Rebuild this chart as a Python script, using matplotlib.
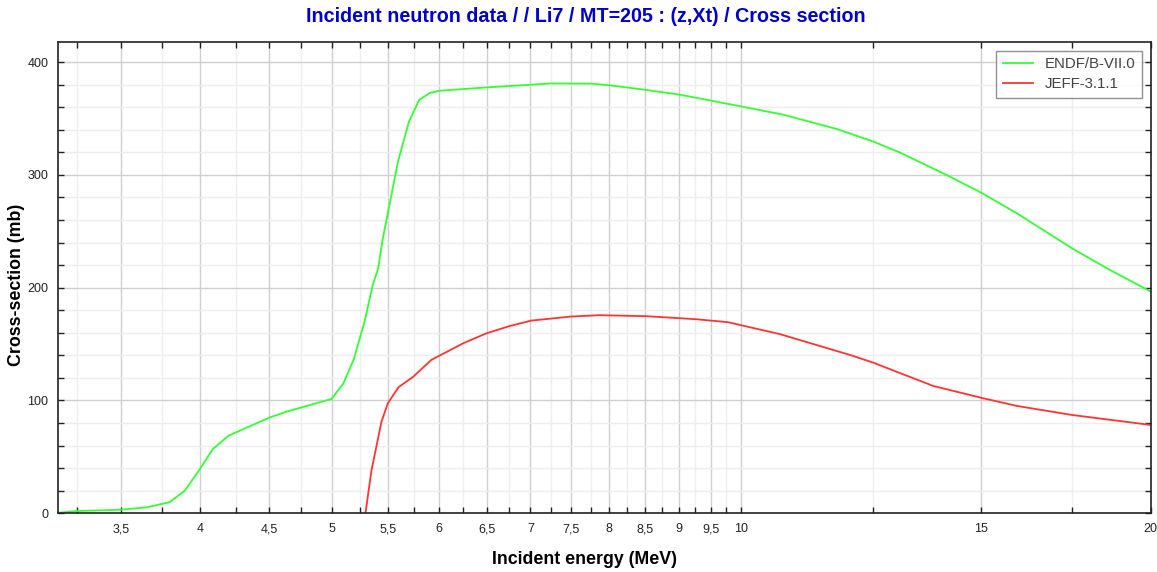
import numpy as np
import matplotlib
matplotlib.use("Agg")
import matplotlib.pyplot as plt
from matplotlib.ticker import FixedLocator, FuncFormatter

# ENDF/B-VII.0 (green)
endf_e = [3.147, 3.25, 3.5, 3.657, 3.80, 3.90, 4.0, 4.09, 4.20, 4.5, 4.63, 5.0, 5.10,
          5.19, 5.29, 5.36, 5.41, 5.45, 5.595, 5.70, 5.80, 5.905, 6.0, 6.5, 7.01, 7.25,
          7.76, 8.01, 8.5, 9.02, 9.51, 10.0, 10.74, 11.76, 12.5, 13.08, 14.15, 15.0,
          15.94, 17.5, 18.56, 20.0]
endf_xs = [0.5, 2, 3.2, 5.3, 9.8, 20, 39, 57, 68.8, 84.8, 90, 101.4, 115,
           136, 171, 202, 217, 242, 311.8, 347.3, 366.6, 372.5, 374.5, 377.5, 379.9, 381,
           380.8, 379.3, 375.4, 371, 365.7, 360.6, 353.3, 340.6, 329.6, 319.8, 300, 284.4,
           266, 235, 217.3, 196.5]

# JEFF-3.1.1 (red)
jeff_e = [5.295, 5.35, 5.40, 5.44, 5.50, 5.60, 5.74, 5.92, 6.25, 6.5, 6.76, 7.01, 7.50,
          7.87, 8.52, 9.02, 9.27, 9.78, 10.1, 10.68, 12.02, 12.5, 13.84, 15.0, 15.94,
          17.5, 20.0]
jeff_xs = [0, 38.4, 62, 81, 97.6, 111.8, 121, 136, 150.8, 159.6, 166, 170.8, 174.4,
           175.6, 174.7, 172.9, 172, 169.4, 165.5, 158.8, 140.4, 133.6, 112.9, 102.5, 95.2,
           87.2, 78.3]

x_major = [3.5, 4, 4.5, 5, 5.5, 6, 6.5, 7, 7.5, 8, 8.5, 9, 9.5, 10, 15, 20]
x_minor = list(np.arange(3.25, 10, 0.5)) + [12.5, 17.5]

plt.rcParams['font.family'] = ['Liberation Sans', 'DejaVu Sans']

fig = plt.figure(figsize=(11.57, 5.72), dpi=100)
ax = fig.add_axes([0.0501, 0.1026, 0.9445, 0.8245])

ax.plot(endf_e, endf_xs, color='#33ff33', lw=1.3, label='ENDF/B-VII.0')
ax.plot(jeff_e, jeff_xs, color='#ff3333', lw=1.3, label='JEFF-3.1.1')

ax.set_xscale('log')
ax.set_xlim(3.147, 20)
ax.set_ylim(0, 418)

ax.xaxis.set_major_locator(FixedLocator(x_major))
ax.xaxis.set_minor_locator(FixedLocator(x_minor))
ax.xaxis.set_major_formatter(FuncFormatter(lambda v, p: ('%g' % v).replace('.', ',')))
ax.xaxis.set_minor_formatter(FuncFormatter(lambda v, p: ''))
ax.yaxis.set_major_locator(FixedLocator([0, 100, 200, 300, 400]))
ax.yaxis.set_minor_locator(FixedLocator(np.arange(20, 420, 20)))

ax.grid(which='major', color='#cfcfcf', lw=1.0)
ax.grid(which='minor', color='#eeeeee', lw=1.0)
ax.set_axisbelow(True)

ax.tick_params(which='both', direction='in', top=True, right=True, length=4,
               width=1, colors='#222222', labelsize=9, pad=7)
for s in ax.spines.values():
    s.set_color('#222222')
    s.set_linewidth(1.2)

ax.set_xlabel('Incident energy (MeV)', fontsize=12.8, fontweight='bold')
ax.xaxis.set_label_coords(0.482, -0.08)
ax.set_ylabel('Cross-section (mb)', fontsize=12.8, fontweight='bold')
ax.yaxis.set_label_coords(-0.03, 0.484)
fig.suptitle('Incident neutron data / / Li7 / MT=205 : (z,Xt) / Cross section',
             x=0.506, y=0.988, color='#0000cc', fontsize=14.2, fontweight='bold')

leg = ax.legend(loc='upper right', bbox_to_anchor=(0.992, 0.981), borderaxespad=0,
                fontsize=10.8, frameon=True, fancybox=False, edgecolor='#777777',
                handlelength=2.0, borderpad=0.45, labelspacing=0.4)
leg.get_frame().set_linewidth(1.0)
for t in leg.get_texts():
    t.set_color('#444444')

fig.savefig('out.png', dpi=100)
